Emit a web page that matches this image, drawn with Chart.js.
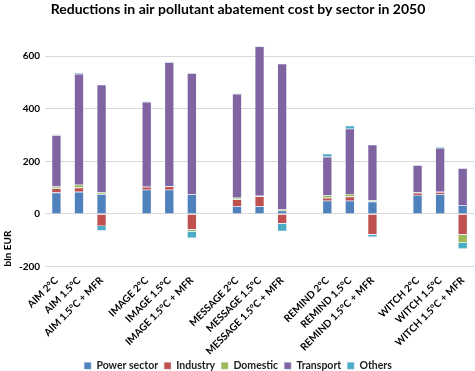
<!DOCTYPE html>
<html>
<head>
<meta charset="utf-8">
<script src="https://cdn.jsdelivr.net/npm/chart.js"></script>
<style>
  html, body { margin: 0; padding: 0; background: #fff; }
  #chart_box { width: 475px; height: 371px; }
</style>
</head>
<body>
<div id="chart_box"><canvas id="Cost_Chart"></canvas></div>
<script>
// categories, blank slots keep the gap between model groups
const categories = ["AIM 2°C", "AIM 1.5°C", "AIM 1.5°C + MFR", "",
    "IMAGE 2°C", "IMAGE 1.5°C", "IMAGE 1.5°C + MFR", "",
    "MESSAGE 2°C", "MESSAGE 1.5°C", "MESSAGE 1.5°C + MFR", "",
    "REMIND 2°C", "REMIND 1.5°C", "REMIND 1.5°C + MFR", "",
    "WITCH 2°C", "WITCH 1.5°C", "WITCH 1.5°C + MFR"];

// bln EUR
const powerSector = [81, 84, 75, null, 92, 92, 74, null, 29, 29, 12, null, 50, 50, 47, null, 72, 75, 33];
const industry    = [16, 16, -46, null, 11, 13, -60, null, 26, 38, -37, null, 11, 16, -79, null, 8, 8, -79];
const domestic    = [7, 11, 6, null, 0, 0, -7, null, 6, 2, 5, null, 9, 10, 5, null, 1, 1, -31];
const transport   = [195, 421, 410, null, 323, 472, 461, null, 395, 568, 554, null, 147, 248, 211, null, 104, 167, 141];
const others      = [3, 4, -18, null, 2, 2, -25, null, 2, 2, -29, null, 12, 12, -9, null, 2, 2, -23];

const yTicks = [-200, 0, 200, 400, 600];

const colors = ["#4F81BD", "#C0504D", "#9BBB59", "#8064A2", "#4BACC6"];
const names = ["Power sector", "Industry", "Domestic", "Transport", "Others"];
const series = [powerSector, industry, domestic, transport, others];

const fontName = "Lato";

function makeSet(i) {
    return {
        label: names[i],
        data: series[i],
        backgroundColor: colors[i],
        borderColor: "rgba(220,225,240,0.8)",
        borderWidth: 0.6,
        barPercentage: 0.42,
        categoryPercentage: 1.0,
    };
}

const data = {
    labels: categories,
    datasets: [0, 1, 2, 3, 4].map(makeSet),
};

const options = {
    responsive: true,
    maintainAspectRatio: false,
    animation: false,
    layout: { padding: { left: 2, right: 1, top: 0, bottom: -10 } },
    plugins: {
        title: {
            display: true,
            text: "Reductions in air pollutant abatement cost by sector in 2050",
            color: "#000",
            font: { family: fontName, size: 14, weight: "bold" },
            padding: { top: 1, bottom: 12 },
        },
        legend: {
            position: "bottom",
            labels: {
                boxWidth: 7,
                boxHeight: 7,
                color: "#222",
                font: { family: fontName, size: 10.5, weight: "bold" },
                padding: 6,
            },
        },
        tooltip: { enabled: false },
    },
    scales: {
        x: {
            stacked: true,
            grid: { display: false },
            border: { display: false },
            afterFit: function (axis) {
                axis.height = 88; // room for the slanted labels
            },
            ticks: {
                autoSkip: false,
                maxRotation: 45,
                minRotation: 45,
                padding: 0,
                color: "#000",
                font: { family: fontName, size: 10, weight: "bold" },
            },
        },
        y: {
            stacked: true,
            min: -200,
            max: 700,
            afterBuildTicks: function (axis) {
                axis.ticks = yTicks.map(function (v) { return { value: v }; });
            },
            grid: { color: "#d9d9d9", lineWidth: 1, drawTicks: false },
            border: { display: false },
            ticks: {
                padding: 5,
                color: "#000",
                font: { family: fontName, size: 10, weight: "bold" },
            },
            title: {
                display: true,
                text: "bln EUR",
                align: "start",
                color: "#000",
                padding: { top: 0, bottom: 0 },
                font: { family: fontName, size: 10, weight: "bold" },
            },
        },
    },
};

var costChart = new Chart(document.getElementById("Cost_Chart").getContext("2d"), {
    type: "bar",
    data: data,
    options: options,
});
</script>
</body>
</html>
